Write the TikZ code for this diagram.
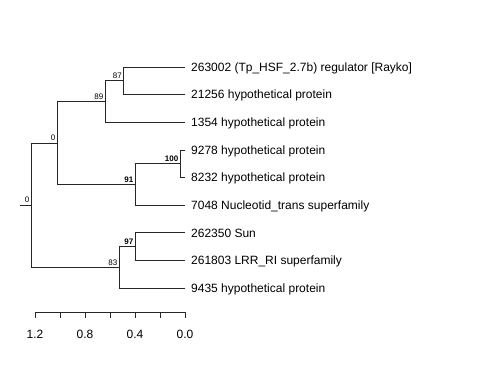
\documentclass[tikz,border=0pt]{standalone}
\usepackage{fontspec}
\setmainfont{Liberation Sans}
\begin{document}
\begin{tikzpicture}[x=1pt,y=-1pt,
  edge/.style={draw=black!85,line width=0.8pt},
  leaf/.style={anchor=base west,inner sep=0pt,font=\fontsize{12}{14}\selectfont},
  boot/.style={anchor=south east,inner sep=0pt,font=\fontsize{8}{9}\selectfont},
  bootb/.style={boot,font=\fontsize{8}{9}\selectfont\bfseries},
  ticklab/.style={anchor=base,inner sep=0pt,font=\fontsize{12}{14}\selectfont}]
\useasboundingbox (0,0) rectangle (480,384);
% leaf tips
\coordinate (t1) at (185,67);
\coordinate (t2) at (185,94.6);
\coordinate (t3) at (185,122.25);
\coordinate (t4) at (185,149.9);
\coordinate (t5) at (185,177.5);
\coordinate (t6) at (185,205.1);
\coordinate (t7) at (185,232.75);
\coordinate (t8) at (185,260.4);
\coordinate (t9) at (185,288);
% internal nodes
\coordinate (n87) at (123.5,80.8);
\coordinate (n89) at (105,101.5);
\coordinate (n100) at (180,163.7);
\coordinate (n91) at (135,184.4);
\coordinate (n0) at (57,143);
\coordinate (n97) at (135,246.6);
\coordinate (n83) at (119,267.3);
\coordinate (root) at (31,205.1);
\coordinate (stub) at (20,205.1);
% edges
\draw[edge] (n87) |- (t1);
\draw[edge] (n87) |- (t2);
\draw[edge] (n89) |- (n87);
\draw[edge] (n89) |- (t3);
\draw[edge] (n100) |- (t4);
\draw[edge] (n100) |- (t5);
\draw[edge] (n91) |- (n100);
\draw[edge] (n91) |- (t6);
\draw[edge] (n0) |- (n89);
\draw[edge] (n0) |- (n91);
\draw[edge] (n97) |- (t7);
\draw[edge] (n97) |- (t8);
\draw[edge] (n83) |- (n97);
\draw[edge] (n83) |- (t9);
\draw[edge] (root) |- (n0);
\draw[edge] (root) |- (n83);
\draw[edge] (stub) -- (root);
% leaf labels
\node[leaf] (l1) at (191,71.3) {263002 (Tp\_HSF\_2.7b) regulator [Rayko]};
\node[leaf] (l2) at (191,98.9) {21256 hypothetical protein};
\node[leaf] (l3) at (191,126.55) {1354 hypothetical protein};
\node[leaf] (l4) at (191,154.2) {9278 hypothetical protein};
\node[leaf] (l5) at (191,181.8) {8232 hypothetical protein};
\node[leaf] (l6) at (191,209.4) {7048 Nucleotid\_trans superfamily};
\node[leaf] (l7) at (191,237.05) {262350 Sun};
\node[leaf] (l8) at (191,264.7) {261803 LRR\_RI superfamily};
\node[leaf] (l9) at (191,292.3) {9435 hypothetical protein};
% support labels
\node[boot] (b87) at (122,78.8) {87};
\node[boot] (b89) at (103.5,99.5) {89};
\node[bootb] (b100) at (178.5,161.7) {100};
\node[bootb] (b91) at (133.5,182.4) {91};
\node[boot] (b0) at (55.5,141) {0};
\node[bootb] (b97) at (133.5,244.6) {97};
\node[boot] (b83) at (117.5,265.3) {83};
\node[boot] (broot) at (29.5,203.1) {0};
% axis
\coordinate (a0) at (35,312);
\coordinate (a6) at (185,312);
\draw[edge] (a0) -- (a6);
\foreach \i in {0,...,6} {
  \coordinate (k\i) at (35+25*\i,312);
  \draw[edge] (k\i) -- ++(0,6);
}
\node[ticklab] (x12) at (35,338.3) {1.2};
\node[ticklab] (x08) at (85,338.3) {0.8};
\node[ticklab] (x04) at (135,338.3) {0.4};
\node[ticklab] (x00) at (185,338.3) {0.0};
\end{tikzpicture}
\end{document}
